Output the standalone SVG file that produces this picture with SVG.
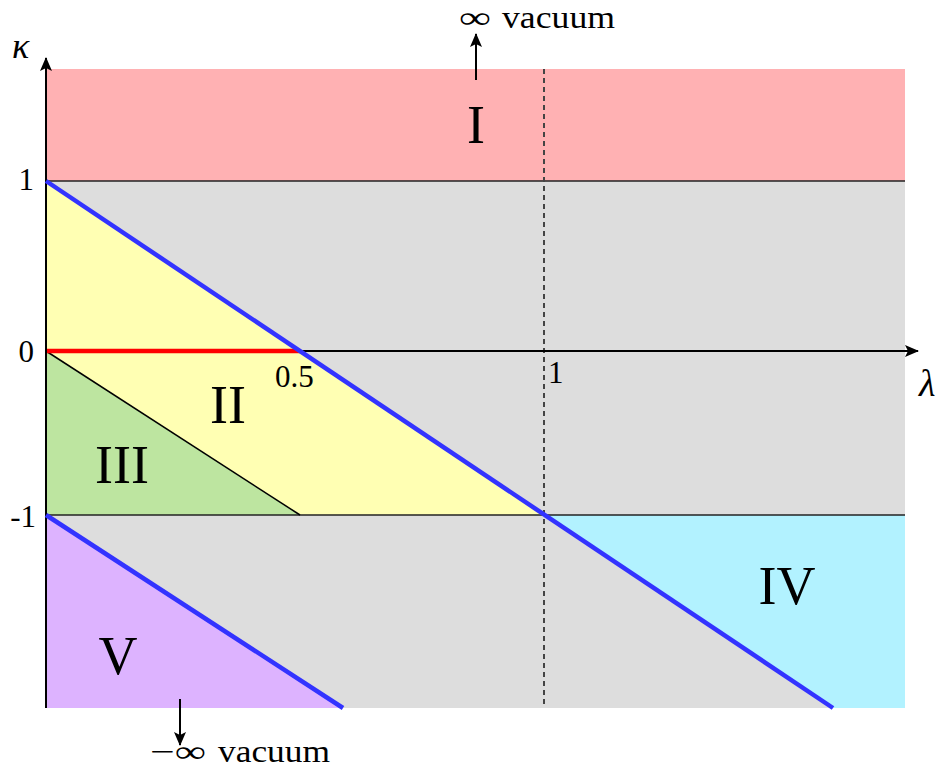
<svg xmlns="http://www.w3.org/2000/svg" width="939" height="769" viewBox="0 0 939 769">
<style>
text{font-family:"Liberation Serif","DejaVu Serif",serif;fill:#000}
.tick{font-size:31px}
.reg{font-size:54px;text-anchor:middle}
.vac{font-size:31px}
.ax{stroke:#000;stroke-width:2;fill:none}
.thin{stroke:#222;stroke-width:1.3;fill:none}
.blue{stroke:#3333ff;stroke-width:4.5;fill:none}
</style>
<defs>
<marker id="ah" markerWidth="14" markerHeight="12" refX="13" refY="6" orient="auto" markerUnits="userSpaceOnUse">
<path d="M0,0 L14,6 L0,12 L3,6 Z" fill="#000"/>
</marker>
</defs>
<g id="regions">
<rect id="gray" x="46" y="181" width="859" height="527" fill="#dddddd"/>
<rect id="region-I" x="46" y="69" width="859" height="112" fill="#ffb1b3"/>
<polygon id="region-II" points="46,181 544,515 46,515" fill="#ffffb3"/>
<polygon id="region-III" points="46,351 300,515 46,515" fill="#bde5a0"/>
<polygon id="region-IV" points="544,515 905,515 905,708 833,708" fill="#b2f2ff"/>
<polygon id="region-V" points="46,515 343,708 46,708" fill="#ddb3ff"/>
</g>
<g id="connectors">
<line class="thin" x1="46" y1="181" x2="905" y2="181"/>
<line class="thin" x1="46" y1="515" x2="905" y2="515"/>
<line x1="544" y1="69" x2="544" y2="707" stroke="#444" stroke-width="2" stroke-dasharray="5,4"/>
<line x1="46" y1="351" x2="300" y2="515" stroke="#000" stroke-width="1.5"/>
<line class="ax" x1="46" y1="351" x2="918" y2="351" marker-end="url(#ah)"/>
<line x1="46" y1="351" x2="300" y2="351" stroke="#ff0000" stroke-width="4.5"/>
<line class="ax" x1="46" y1="708" x2="46" y2="58" marker-end="url(#ah)"/>
<line class="blue" x1="46" y1="181" x2="833" y2="708"/>
<line class="blue" x1="46" y1="515" x2="343" y2="708"/>
<line class="ax" x1="476" y1="80" x2="476" y2="34" marker-end="url(#ah)"/>
<line class="ax" x1="180" y1="699" x2="180" y2="745" marker-end="url(#ah)"/>
</g>
<g id="labels">
<text x="12" y="58" font-size="36" font-style="italic">κ</text>
<text x="919" y="396" font-size="38" font-style="italic">λ</text>
<text class="tick" x="34" y="190" text-anchor="end">1</text>
<text class="tick" x="34" y="362" text-anchor="end">0</text>
<text class="tick" x="36" y="527" text-anchor="end">-1</text>
<text class="tick" x="275" y="387">0.5</text>
<text class="tick" x="548" y="383">1</text>
<text class="reg" x="476" y="143">I</text>
<text class="reg" x="228" y="423">II</text>
<text class="reg" x="122" y="483">III</text>
<text class="reg" x="787" y="604">IV</text>
<text class="reg" x="118" y="674">V</text>
<text class="vac" y="28"><tspan x="459" textLength="32" lengthAdjust="spacingAndGlyphs">∞</tspan> <tspan x="502" textLength="113" lengthAdjust="spacingAndGlyphs">vacuum</tspan></text>
<text class="vac" y="762"><tspan x="150" textLength="56" lengthAdjust="spacingAndGlyphs">−∞</tspan> <tspan x="218" textLength="112" lengthAdjust="spacingAndGlyphs">vacuum</tspan></text>
</g>
</svg>
